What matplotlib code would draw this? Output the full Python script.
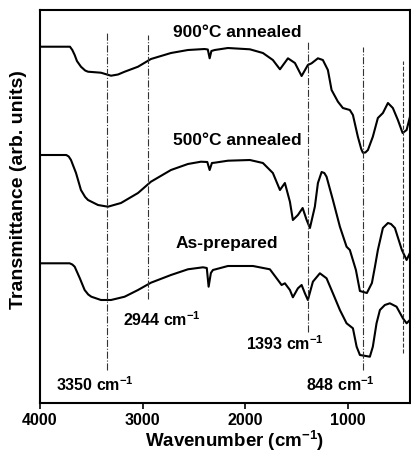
import numpy as np
import matplotlib
matplotlib.use("Agg")
import matplotlib.pyplot as plt

plt.rcParams["font.family"] = ["Liberation Sans", "DejaVu Sans"]
plt.rcParams["font.weight"] = "bold"
plt.rcParams["mathtext.fontset"] = "custom"
plt.rcParams["mathtext.rm"] = "Liberation Sans:bold"
plt.rcParams["mathtext.bf"] = "Liberation Sans:bold"
plt.rcParams["mathtext.default"] = "bf"

# 900 C annealed
wn_900 = [4000, 3708, 3685, 3662, 3640, 3601, 3560, 3532, 3406, 3308, 3240, 3175, 3045,
          2919, 2724, 2559, 2396, 2365, 2347, 2330, 2298, 2169, 1955, 1828, 1731,
          1662, 1584, 1516, 1451, 1390, 1354, 1292, 1244, 1195, 1159, 1097, 1049,
          981, 951, 903, 870, 854, 830, 805, 757, 708, 659, 610, 562, 513, 467,
          428, 396]
t_900 = [356.3, 356.3, 353, 348, 342, 336.3, 332.5, 331.3, 330.3, 327.3, 328.5, 331.3, 336.3,
         344, 350, 353, 354, 353.5, 344.7, 352, 353, 355, 353.7, 350, 343,
         333.7, 344.7, 340, 327, 338, 339.7, 344.7, 343, 333, 313, 301.3, 295,
         293, 288, 266.3, 254, 250.3, 250.5, 253, 266.3, 285, 290, 300, 295, 283, 270,
         273, 286]

# 500 C annealed
wn_500 = [4000, 3744, 3720, 3698, 3649, 3601, 3560, 3532, 3435, 3338, 3211, 3045,
          2919, 2724, 2559, 2432, 2370, 2347, 2325, 2298, 2169, 1955, 1828, 1731,
          1662, 1614, 1565, 1536, 1487, 1441, 1402, 1370, 1322, 1292, 1256, 1230,
          1208, 1146, 1078, 1013, 981, 922, 883, 815, 766, 737, 708, 659, 610,
          580, 542, 474, 428, 396]
t_500 = [248, 248, 246.5, 243, 230, 213, 206, 203, 198, 196.3, 200, 210,
         221.3, 233, 239, 241.3, 241, 233, 240, 240.3, 242.3, 243, 240, 230,
         213, 220, 201.3, 183, 188, 195, 183, 175, 196.3, 220, 231, 230,
         226.3, 203, 176.3, 156.3, 153, 133, 112, 110, 120, 136, 153, 175, 180,
         179, 175, 153, 143, 150]

# as-prepared
wn_as = [4000, 3711, 3685, 3662, 3613, 3565, 3530, 3500, 3406, 3308, 3175, 3045,
         2919, 2724, 2559, 2412, 2375, 2357, 2335, 2315, 2169, 1925, 1760, 1682,
         1646, 1614, 1565, 1536, 1487, 1451, 1419, 1390, 1341, 1273, 1208, 1146,
         1078, 1013, 951, 915, 883, 786, 757, 721, 688, 640, 591, 526, 464, 428, 396]
t_as = [139.7, 139.7, 138.5, 136.3, 125, 113, 108.5, 106.3, 103, 103, 106.3, 113,
        120.3, 128, 133.7, 135.7, 135, 116.3, 130, 133, 137, 137, 133.7, 123,
        118, 119.7, 113, 105.7, 114.7, 118, 109.7, 103, 121.3, 129.7, 124.7, 109.7,
        93, 79.7, 74.7, 56.3, 48, 46.3, 56.3, 79.7, 93, 98, 99.7, 96.3, 84.7, 79.7, 83]

# marker lines: position, top, bottom
peak_pos = [3350, 2944, 1393, 848, 460]
peak_top = [370, 368, 361, 356, 342]
peak_bot = [33, 104, 71, 33, 50]
peak_style = ["-.", "-.", "-.", "-.", "--"]

curve_labels = ["900°C annealed", "500°C annealed", "As-prepared"]
curve_label_x = [2081, 2081, 2179]
curve_label_y = [371, 263, 160]

peak_labels = ["3350 cm$^{-1}$", "2944 cm$^{-1}$", "1393 cm$^{-1}$", "848 cm$^{-1}$"]
peak_label_x = [3464, 2812, 1614, 1068]
peak_label_y = [18, 83, 59, 18]

fig = plt.figure(figsize=(4.11, 4.55), dpi=100)
ax = fig.add_axes([0.0973, 0.1143, 0.900, 0.8637])

for xs, ys in [(wn_900, t_900), (wn_500, t_500), (wn_as, t_as)]:
    ax.plot(xs, ys, color="black", lw=1.5, solid_joinstyle="round")

for x, top, bot, ls in zip(peak_pos, peak_top, peak_bot, peak_style):
    ax.plot([x, x], [bot, top], color="#333333", lw=0.8, ls=ls)

for s, x, y in zip(curve_labels, curve_label_x, curve_label_y):
    ax.text(x, y, s, ha="center", va="center", fontsize=12.5, fontweight="bold")

for s, x, y in zip(peak_labels, peak_label_x, peak_label_y):
    ax.text(x, y, s, ha="center", va="center", fontsize=11.5, fontweight="bold")

ax.set_xlim(4000, 396)
ax.set_ylim(0, 393)
ax.set_xticks([4000, 3000, 2000, 1000])
ax.set_yticks([])
ax.tick_params(axis="x", direction="out", length=4, width=1.2, labelsize=11.5)
for sp in ax.spines.values():
    sp.set_linewidth(1.5)

ax.set_xlabel("Wavenumber (cm$^{-1}$)", fontsize=13.5, fontweight="bold")
ax.set_ylabel("Transmittance (arb. units)", fontsize=14, fontweight="bold")
ax.xaxis.set_label_coords(0.526, -0.065)
ax.yaxis.set_label_coords(-0.035, 0.542)

fig.savefig("out.png", dpi=100)
